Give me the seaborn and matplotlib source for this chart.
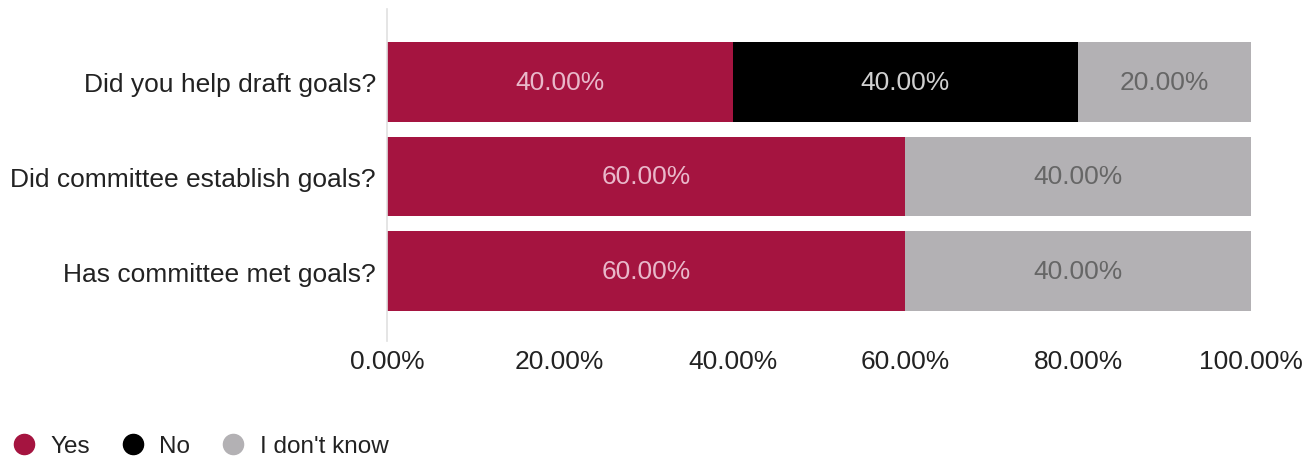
import matplotlib
matplotlib.use("Agg")
import matplotlib.pyplot as plt
from matplotlib.lines import Line2D
import seaborn as sns
import pandas as pd

questions = ["Did you help draft goals?", "Did committee establish goals?", "Has committee met goals?"]
answers = ["Yes", "No", "I don't know"]
yes_pct = [40.0, 60.0, 60.0]
no_pct = [40.0, 0.0, 0.0]
dont_know_pct = [20.0, 40.0, 40.0]
x_ticks = [0, 20, 40, 60, 80, 100]

colors = {"Yes": "#A51440", "No": "#000000", "I don't know": "#B3B1B4"}
label_colors = {"Yes": "#E9B8CA", "No": "#D0D0D0", "I don't know": "#666666"}

sns.set_theme(style="white")
plt.rcParams["font.family"] = ["Liberation Sans", "DejaVu Sans"]

df = pd.DataFrame({"question": questions, "Yes": yes_pct, "No": no_pct, "I don't know": dont_know_pct})
df["cum_yes"] = df["Yes"]
df["cum_no"] = df["Yes"] + df["No"]
df["cum_all"] = df["cum_no"] + df["I don't know"]

W, H = 1315, 464
fig = plt.figure(figsize=(W / 100, H / 100), dpi=100)
ax = fig.add_axes([387 / W, 1 - 342 / H, (1251 - 387) / W, (342 - 10) / H])

bar_w = 80 / 95
# stacked bars: draw cumulative totals back to front
for col, ans in [("cum_all", "I don't know"), ("cum_no", "No"), ("cum_yes", "Yes")]:
    sns.barplot(data=df, y="question", x=col, color=colors[ans], orient="h",
                width=bar_w, ax=ax, saturation=1, linewidth=0)

# segment labels
for i, row in df.iterrows():
    left = 0.0
    for ans in answers:
        v = row[ans]
        if v > 0:
            ax.text(left + v / 2, i, f"{v:.2f}%", ha="center", va="center",
                    fontsize=19, color=label_colors[ans])
        left += v

ax.set_xlim(0, 100)
ax.set_ylim(2 + 70 / 95, -73 / 95)
ax.set_xticks(x_ticks)
ax.set_xticklabels([f"{t:.2f}%" for t in x_ticks])
ax.set_xlabel("")
ax.set_ylabel("")
ax.tick_params(axis="x", length=0, pad=6, labelsize=19, labelcolor="#222222")
ax.tick_params(axis="y", length=0, pad=8, labelsize=19, labelcolor="#222222")
for s in ["top", "right", "bottom"]:
    ax.spines[s].set_visible(False)
ax.spines["left"].set_color("#E0E0E0")
ax.spines["left"].set_linewidth(1.2)

handles = [Line2D([0], [0], marker="o", linestyle="none", markersize=14.5,
                  markerfacecolor=colors[a], markeredgecolor=colors[a]) for a in answers]
fig.legend(handles, answers, loc="center left", bbox_to_anchor=(14 / W, 1 - 447 / H), ncol=3,
           frameon=False, fontsize=17.5, handlelength=0.8, handletextpad=0.7,
           columnspacing=1.35, borderpad=0, borderaxespad=0, labelcolor="#222222")

fig.savefig("out.png", dpi=100)
